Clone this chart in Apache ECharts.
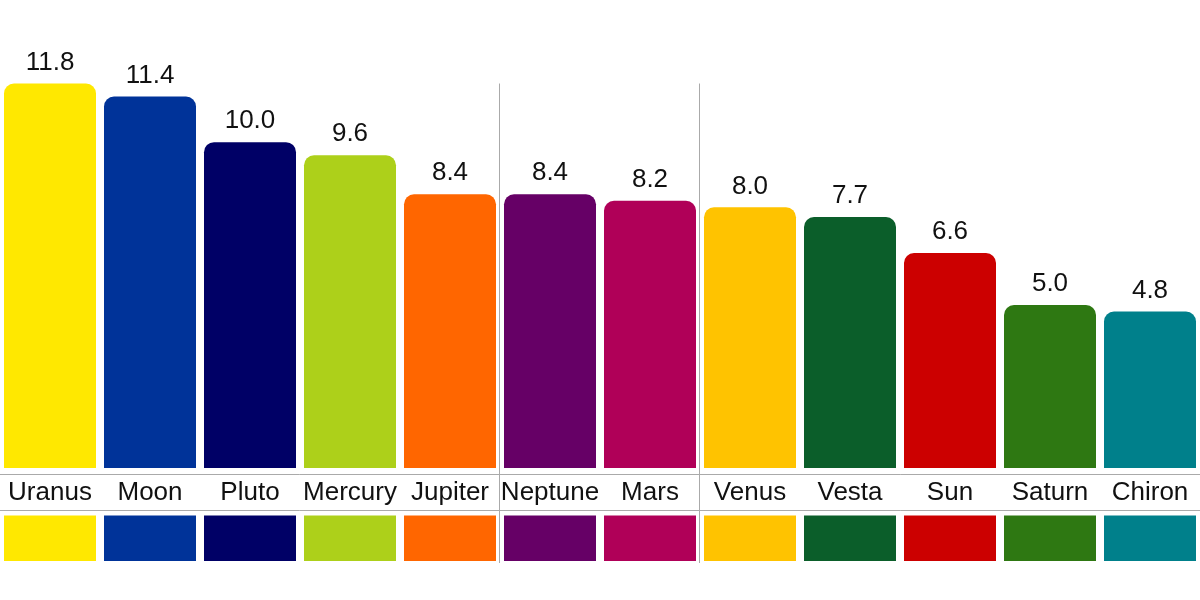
<!DOCTYPE html>
<html>
<head>
<meta charset="utf-8">
<script src="https://cdn.jsdelivr.net/npm/echarts@6/dist/echarts.min.js"></script>
<style>html,body{margin:0;padding:0;background:#fff;}#c{width:1200px;height:600px;}</style>
</head>
<body>
<div id="c"></div>
<script>
const categories = ['Uranus','Moon','Pluto','Mercury','Jupiter','Neptune','Mars','Venus','Vesta','Sun','Saturn','Chiron'];
const values = [11.8, 11.4, 10.0, 9.6, 8.4, 8.4, 8.2, 8.0, 7.7, 6.6, 5.0, 4.8];
const colors = ['#FFE800','#003399','#000066','#ADD01A','#FF6600','#660066','#B00058','#FFC300','#0B5E2A','#CC0000','#2E7812','#00808B'];
const groupStarts = [5, 7];

const FONT = 'Liberation Sans';
const chart = echarts.init(document.getElementById('c'), null, {renderer: 'canvas'});

const option = {
  animation: false,
  backgroundColor: '#ffffff',
  grid: [
    {left: 0, right: 0, top: 77, bottom: 132},
    {left: 0, right: 0, top: 515.5, height: 45.5}
  ],
  xAxis: [
    {
      type: 'category', gridIndex: 0, data: categories, position: 'bottom', offset: 6,
      axisLine: {show: true, onZero: false, lineStyle: {color: '#aaaaaa', width: 1}},
      axisTick: {show: false},
      axisLabel: {color: '#111111', fontSize: 26, fontFamily: FONT, margin: 6, interval: 0}
    },
    {
      type: 'category', gridIndex: 1, data: categories, position: 'top', offset: 5.5,
      axisLine: {show: true, onZero: false, lineStyle: {color: '#aaaaaa', width: 1}},
      axisTick: {show: false},
      axisLabel: {show: false}
    }
  ],
  yAxis: [
    {type: 'value', gridIndex: 0, min: 0, max: 12, show: false, splitLine: {show: false}},
    {type: 'value', gridIndex: 1, min: 0, max: 1, show: false, splitLine: {show: false}}
  ],
  series: [
    {
      type: 'bar', xAxisIndex: 0, yAxisIndex: 0, barWidth: 92,
      data: values.map((v, i) => ({value: v, itemStyle: {color: colors[i], borderRadius: [10, 10, 0, 0]}})),
      label: {
        show: true, position: 'top', distance: 8, color: '#111111', fontSize: 26, fontFamily: FONT,
        formatter: p => p.value.toFixed(1)
      }
    },
    {
      type: 'bar', xAxisIndex: 1, yAxisIndex: 1, barWidth: 92,
      data: categories.map((c, i) => ({value: 1, itemStyle: {color: colors[i]}}))
    }
  ]
};
chart.setOption(option);

// vertical group separators
const topY = chart.convertToPixel({xAxisIndex: 0, yAxisIndex: 0}, [0, Math.max(...values)])[1];
const bottomY = chart.convertToPixel({xAxisIndex: 1, yAxisIndex: 1}, [0, 0])[1] + 2;
const graphics = groupStarts.map(idx => {
  const a = chart.convertToPixel({xAxisIndex: 0, yAxisIndex: 0}, [idx - 1, 0])[0];
  const b = chart.convertToPixel({xAxisIndex: 0, yAxisIndex: 0}, [idx, 0])[0];
  const x = Math.round((a + b) / 2) - 0.5;
  return {type: 'line', shape: {x1: x, y1: topY, x2: x, y2: bottomY}, style: {stroke: '#aaaaaa', lineWidth: 1}, z: 10};
});
chart.setOption({graphic: graphics});
</script>
</body>
</html>
